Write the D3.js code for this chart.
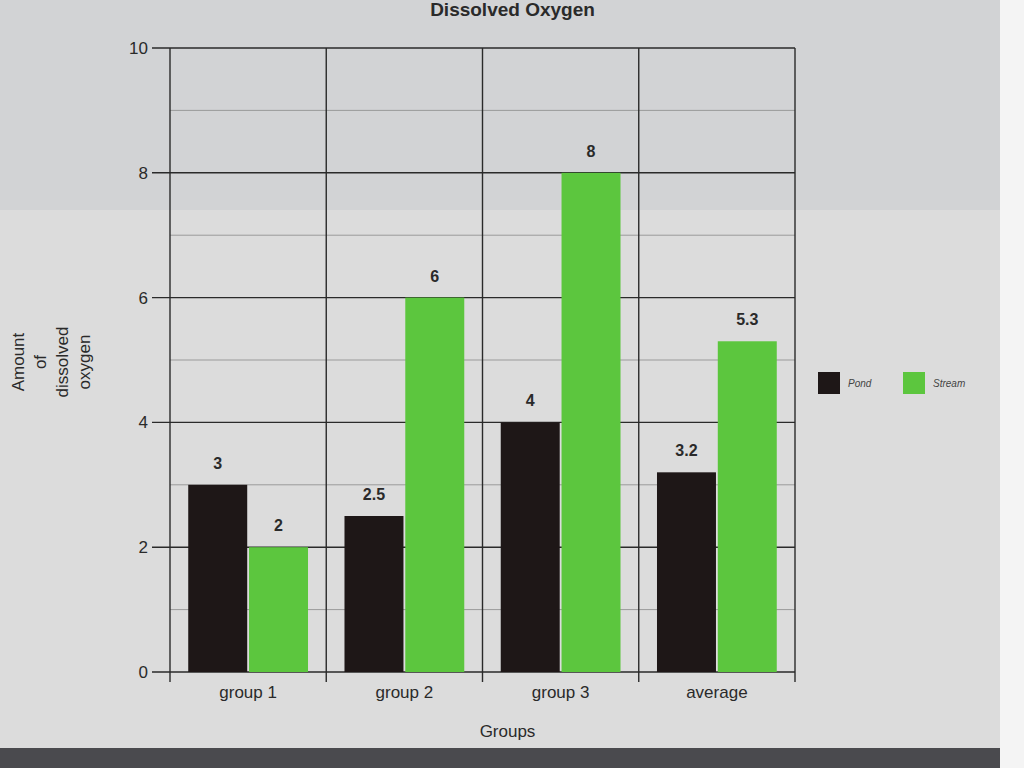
<!DOCTYPE html>
<html><head><meta charset="utf-8">
<script src="https://cdn.jsdelivr.net/npm/d3@7"></script>
<style>body{margin:0;background:#d6d6d6;}svg{display:block;font-family:"Liberation Sans",Arial,sans-serif;}</style>
</head><body>
<svg id="c" width="1024" height="768"></svg>
<script>
const categories = ["group 1", "group 2", "group 3", "average"];
const series = ["Pond", "Stream"];
const pondValues = [3, 2.5, 4, 3.2];
const streamValues = [2, 6, 8, 5.3];
const yTicks = [0, 2, 4, 6, 8, 10];
const minorTicks = [1, 3, 5, 7, 9];
const colors = ["#1e1717", "#5cc63e"];

const svg = d3.select("#c");
// background shading (photo of screen)
svg.append("rect").attr("x",0).attr("y",0).attr("width",1024).attr("height",768).attr("fill","#dcdcdc");
svg.append("rect").attr("x",0).attr("y",0).attr("width",1000).attr("height",210).attr("fill","#d2d3d5");
svg.append("rect").attr("x",1000).attr("y",0).attr("width",24).attr("height",768).attr("fill","#f4f4f4");
svg.append("rect").attr("x",0).attr("y",748).attr("width",1000).attr("height",20).attr("fill","#4a4a4e");

const m = {left:170, right:795, top:48, bottom:672};
const x0 = d3.scaleBand().domain(categories).range([m.left, m.right]).paddingInner(0).paddingOuter(0);
const x1 = d3.scaleBand().domain(series).range([0, x0.bandwidth()]).paddingInner(0.03).paddingOuter(0.3);
const y = d3.scaleLinear().domain([0,10]).range([m.bottom, m.top]);

// minor gridlines
svg.append("g").selectAll("line").data(minorTicks).join("line")
  .attr("x1", m.left).attr("x2", m.right).attr("y1", d=>y(d)).attr("y2", d=>y(d))
  .attr("stroke","#9a9a9a").attr("stroke-width",1);
// major gridlines
svg.append("g").selectAll("line").data(yTicks).join("line")
  .attr("x1", m.left-18).attr("x2", m.right).attr("y1", d=>y(d)).attr("y2", d=>y(d))
  .attr("stroke","#2a2a2a").attr("stroke-width",1.4);
// vertical separators
const seps = categories.map(c=>x0(c)).concat([m.right]);
svg.append("g").selectAll("line").data(seps).join("line")
  .attr("x1", d=>d).attr("x2", d=>d).attr("y1", m.top).attr("y2", m.bottom+10)
  .attr("stroke","#2a2a2a").attr("stroke-width",1.4);

// y tick labels
svg.append("g").selectAll("text").data(yTicks).join("text")
  .attr("x", m.left-22).attr("y", d=>y(d)).attr("dy","0.35em")
  .attr("text-anchor","end").attr("font-size",17).attr("fill","#2a2a2a").text(d=>d);

// bars
const data = categories.map((c,i)=>({c, vals:[pondValues[i], streamValues[i]]}));
const g = svg.append("g").selectAll("g").data(data).join("g").attr("transform", d=>`translate(${x0(d.c)},0)`);
g.selectAll("rect").data(d=>d.vals.map((v,j)=>({s:series[j], v, j}))).join("rect")
  .attr("x", d=>x1(d.s)).attr("width", x1.bandwidth())
  .attr("y", d=>y(d.v)).attr("height", d=>y(0)-y(d.v)).attr("fill", d=>colors[d.j]);
g.selectAll("text").data(d=>d.vals.map((v,j)=>({s:series[j], v, j}))).join("text")
  .attr("x", d=>x1(d.s)+x1.bandwidth()/2).attr("y", d=>y(d.v)-16)
  .attr("text-anchor","middle").attr("font-size",16).attr("font-weight","bold").attr("fill","#2a2a2a").text(d=>d.v);

// x labels
svg.append("g").selectAll("text").data(categories).join("text")
  .attr("x", d=>x0(d)+x0.bandwidth()/2).attr("y", m.bottom+26)
  .attr("text-anchor","middle").attr("font-size",17).attr("fill","#2a2a2a").text(d=>d);

svg.append("text").attr("x",(m.left+m.right)/2+25).attr("y",737).attr("text-anchor","middle")
  .attr("font-size",17).attr("fill","#2a2a2a").text("Groups");

svg.append("text").attr("x",(m.left+m.right)/2+30).attr("y",16).attr("text-anchor","middle")
  .attr("font-size",19).attr("font-weight","bold").attr("fill","#2a2a2a").text("Dissolved Oxygen");

// y label
const yl = svg.append("text").attr("transform","translate(24,362) rotate(-90)")
  .attr("text-anchor","middle").attr("font-size",17).attr("fill","#2a2a2a");
["Amount","of","dissolved","oxygen"].forEach((t,i)=>yl.append("tspan").attr("x",0).attr("dy", i===0?0:"1.3em").text(t));

// legend
const lg = svg.append("g").selectAll("g").data(series).join("g")
  .attr("transform",(d,i)=>`translate(${818+i*85},372)`);
lg.append("rect").attr("width",22).attr("height",22).attr("fill",(d,i)=>colors[i]);
lg.append("text").attr("x",30).attr("y",15).attr("font-size",10).attr("font-style","italic").attr("fill","#444").text(d=>d);
</script>
</body></html>
